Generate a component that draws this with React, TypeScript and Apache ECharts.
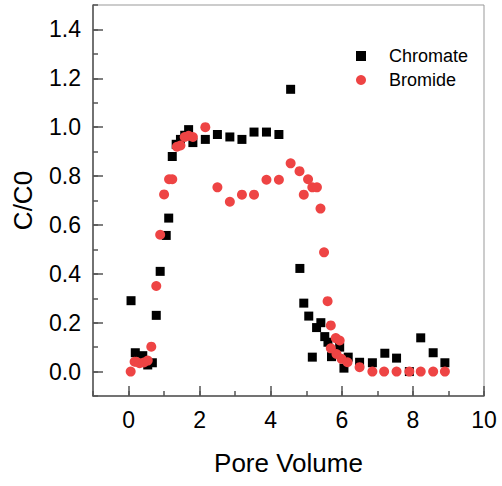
import React, { useEffect, useRef } from "react";
import * as echarts from "echarts";

const chromate: [number, number][] = [
  [0.07, 0.29], [0.19, 0.077], [0.4, 0.065], [0.54, 0.027], [0.67, 0.036],
  [0.78, 0.23], [0.89, 0.41], [1.06, 0.557], [1.13, 0.628], [1.23, 0.88],
  [1.34, 0.93], [1.46, 0.95], [1.58, 0.967], [1.69, 0.99], [1.81, 0.937],
  [2.16, 0.95], [2.5, 0.97], [2.85, 0.96], [3.19, 0.95], [3.53, 0.98],
  [3.88, 0.98], [4.23, 0.97], [4.56, 1.155], [4.82, 0.422], [4.93, 0.28],
  [5.07, 0.227], [5.17, 0.059], [5.29, 0.18], [5.41, 0.2], [5.52, 0.143],
  [5.61, 0.12], [5.71, 0.061], [5.94, 0.1], [6.06, 0.014], [6.18, 0.059],
  [6.5, 0.038], [6.86, 0.036], [7.21, 0.075], [7.54, 0.055], [7.9, 0.0],
  [8.22, 0.138], [8.57, 0.077], [8.9, 0.036],
];

const bromide: [number, number][] = [
  [0.06, 0.0], [0.17, 0.04], [0.22, 0.04], [0.31, 0.034], [0.43, 0.037],
  [0.54, 0.045], [0.64, 0.102], [0.78, 0.35], [0.89, 0.56], [1.0, 0.725],
  [1.14, 0.787], [1.23, 0.787], [1.36, 0.92], [1.46, 0.925], [1.58, 0.96],
  [1.69, 0.965], [1.81, 0.96], [2.16, 1.0], [2.5, 0.754], [2.85, 0.695],
  [3.19, 0.724], [3.53, 0.724], [3.88, 0.785], [4.23, 0.785], [4.56, 0.852],
  [4.81, 0.82], [4.93, 0.724], [5.05, 0.787], [5.17, 0.754], [5.3, 0.754],
  [5.4, 0.667], [5.5, 0.488], [5.6, 0.288], [5.69, 0.189], [5.83, 0.137],
  [5.94, 0.127], [5.69, 0.095], [5.85, 0.072], [5.99, 0.052], [6.16, 0.038],
  [6.5, 0.018], [6.86, 0.0], [7.19, 0.0], [7.54, 0.0], [7.9, 0.0],
  [8.22, 0.0], [8.57, 0.0], [8.9, 0.0],
];

const xMajorTicks = [0, 2, 4, 6, 8, 10];
const yMajorTicks = [0, 0.2, 0.4, 0.6, 0.8, 1.0, 1.2, 1.4];

const FONT = "'Liberation Sans', Arial, sans-serif";
const AXIS_COLOR = "#555";

export default function App() {
  const ref = useRef<HTMLDivElement>(null);
  useEffect(() => {
    if (!ref.current) return;
    const chart = echarts.init(ref.current, undefined, { renderer: "svg" });
    chart.setOption({
      animation: false,
      backgroundColor: "#fff",
      textStyle: { fontFamily: FONT },
      grid: {
        left: 93, right: 18, top: 5, bottom: 90,
        show: true, borderColor: "#999", borderWidth: 1,
      },
      legend: {
        orient: "vertical",
        left: 351,
        top: 42,
        itemWidth: 10,
        itemHeight: 10,
        itemGap: 6,
        textStyle: { fontSize: 18, color: "#000", fontFamily: FONT, padding: [0, 0, 0, 18] },
        data: [
          { name: "Chromate", icon: "rect" },
          { name: "Bromide", icon: "circle" },
        ],
      },
      xAxis: [
        {
          type: "value", min: -1, max: 10, interval: 1,
          position: "bottom",
          axisLine: { show: true, onZero: false, lineStyle: { color: AXIS_COLOR, width: 1.5 } },
          axisTick: { show: true, inside: true, length: 5, lineStyle: { color: AXIS_COLOR, width: 1.5 } },
          axisLabel: { show: false },
          splitLine: { show: false },
        },
        {
          type: "value", min: -1, max: 10,
          position: "bottom",
          name: "Pore Volume",
          nameLocation: "middle",
          nameGap: 54,
          nameTextStyle: { fontSize: 26, color: "#000", fontFamily: FONT },
          axisLine: { show: false, onZero: false },
          axisTick: { show: true, inside: true, length: 10, customValues: xMajorTicks, lineStyle: { color: AXIS_COLOR, width: 1.5 } },
          axisLabel: { show: true, customValues: xMajorTicks, fontSize: 23, color: "#000", margin: 12, fontFamily: FONT },
          splitLine: { show: false },
        },
      ],
      yAxis: [
        {
          type: "value", min: -0.1, max: 1.5, interval: 0.1,
          position: "left",
          axisLine: { show: true, onZero: false, lineStyle: { color: AXIS_COLOR, width: 1.5 } },
          axisTick: { show: true, inside: true, length: 5, lineStyle: { color: AXIS_COLOR, width: 1.5 } },
          axisLabel: { show: false },
          splitLine: { show: false },
        },
        {
          type: "value", min: -0.1, max: 1.5,
          position: "left",
          name: "C/C0",
          nameLocation: "middle",
          nameRotate: 90,
          nameGap: 57,
          nameTextStyle: { fontSize: 26, color: "#000", fontFamily: FONT },
          axisLine: { show: false, onZero: false },
          axisTick: { show: true, inside: true, length: 10, customValues: yMajorTicks, lineStyle: { color: AXIS_COLOR, width: 1.5 } },
          axisLabel: {
            show: true, customValues: yMajorTicks, fontSize: 23, color: "#000", margin: 12, fontFamily: FONT,
            formatter: (v: number) => v.toFixed(1),
          },
          splitLine: { show: false },
        },
      ],
      series: [
        {
          name: "Chromate",
          type: "scatter",
          xAxisIndex: 0, yAxisIndex: 0,
          symbol: "rect",
          symbolSize: 9,
          itemStyle: { color: "#000", opacity: 1 },
          data: chromate,
        },
        {
          name: "Bromide",
          type: "scatter",
          xAxisIndex: 0, yAxisIndex: 0,
          symbol: "circle",
          symbolSize: 10,
          itemStyle: { color: "#EE4444", opacity: 1 },
          data: bromide,
        },
      ],
    });
    return () => chart.dispose();
  }, []);
  return (
    <div
      ref={ref}
      style={{ position: "fixed", left: 0, top: 0, width: 502, height: 486 }}
    />
  );
}
